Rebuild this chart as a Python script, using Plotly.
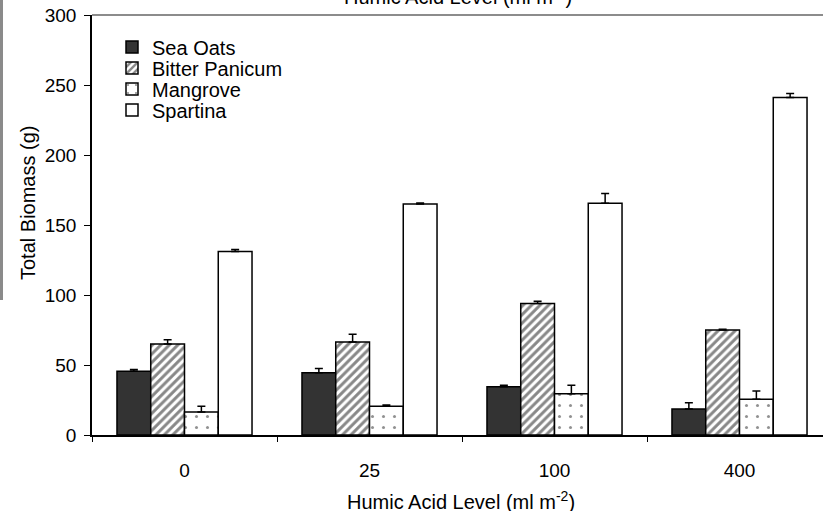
import plotly.graph_objects as go

levels = ["0", "25", "100", "400"]
series_names = ["Sea Oats", "Bitter Panicum", "Mangrove", "Spartina"]
sea_oats = [45.5, 44.5, 34.5, 18.5]
sea_oats_err = [1.2, 3.0, 1.0, 4.5]
bitter_panicum = [65.0, 66.5, 94.0, 75.0]
bitter_panicum_err = [3.0, 5.5, 1.5, 0.5]
mangrove = [16.5, 20.5, 29.5, 25.5]
mangrove_err = [4.0, 1.0, 6.0, 6.0]
spartina = [131.0, 165.0, 165.5, 241.0]
spartina_err = [1.5, 0.8, 7.0, 3.0]
y_ticks = [0, 50, 100, 150, 200, 250, 300]
x_title = "Humic Acid Level (ml m<sup>-2</sup>)"
y_title = "Total Biomass (g)"

FONT = "Liberation Sans, Arial, sans-serif"
values = [sea_oats, bitter_panicum, mangrove, spartina]
errs = [sea_oats_err, bitter_panicum_err, mangrove_err, spartina_err]
fills = [
    dict(color="#333333"),
    dict(color="white", pattern=dict(shape="/", fgcolor="#111111", bgcolor="white", size=6, solidity=0.5)),
    dict(color="white", pattern=dict(shape=".", fgcolor="#222222", bgcolor="white", size=11, solidity=0.06)),
    dict(color="white"),
]

L, T, B = 92, 15, 76
W, H = 823, 511
pw = W - L
ph = H - T - B
cat_px = 185.0
x_max = -0.5 + pw / cat_px

legend_centers_px = [47, 68, 89, 110]
legend_ids = ["legend", "legend2", "legend3", "legend4"]

fig = go.Figure()
for name, v, e, f, lid in zip(series_names, values, errs, fills, legend_ids):
    fig.add_trace(go.Bar(
        name=name, x=levels, y=v, legend=lid,
        marker=dict(line=dict(color="black", width=1.5), **f),
        error_y=dict(type="data", array=e, arrayminus=[0] * len(e), symmetric=False,
                     color="black", thickness=1.5, width=4),
    ))

legend_x = (112 - L) / pw
legends = {}
for lid, cy in zip(legend_ids, legend_centers_px):
    legends[lid] = dict(x=legend_x, y=1 - (cy - T) / ph, xanchor="left", yanchor="middle",
                        bgcolor="rgba(0,0,0,0)", borderwidth=0,
                        font=dict(family=FONT, size=20, color="black"),
                        itemwidth=30)

fig.update_layout(
    width=W, height=H,
    margin=dict(l=L, r=0, t=T, b=B, pad=0, autoexpand=False),
    paper_bgcolor="white", plot_bgcolor="white",
    barmode="group", bargap=0.27, bargroupgap=0,
    font=dict(family=FONT, size=19, color="black"),
    showlegend=True,
    xaxis=dict(
        type="category", range=[-0.5, x_max], automargin=False,
        showline=True, linecolor="black", linewidth=1.5,
        ticks="outside", tickson="boundaries", ticklen=5, tickcolor="black",
        ticklabelstandoff=17,
        tickfont=dict(family=FONT, size=19, color="black"),
        showgrid=False, zeroline=False,
    ),
    yaxis=dict(
        range=[0, 300], tickvals=y_ticks, automargin=False,
        showline=True, linecolor="black", linewidth=1.5,
        ticks="outside", ticklen=6, tickcolor="black",
        ticklabelstandoff=4,
        tickfont=dict(family=FONT, size=19, color="black"),
        showgrid=False, zeroline=False,
    ),
    shapes=[
        dict(type="line", xref="paper", yref="paper", x0=0, x1=1, y0=1, y1=1,
             line=dict(color="#666666", width=1.5)),
        dict(type="rect", xref="paper", yref="paper", x0=-L / pw, x1=(3 - L) / pw,
             y0=1 - (300 - T) / ph, y1=1 + T / ph, fillcolor="#8a8a8a", line=dict(width=0), layer="above"),
    ],
    annotations=[
        dict(text=x_title, xref="paper", yref="paper",
             x=0.5, y=1, xanchor="center", yanchor="bottom", yshift=5, showarrow=False,
             font=dict(family=FONT, size=20, color="black")),
        dict(text=x_title, xref="paper", yref="paper",
             x=(461 - L) / pw, y=-(501 - T - ph) / ph, xanchor="center", yanchor="middle", showarrow=False,
             font=dict(family=FONT, size=20, color="black")),
        dict(text=y_title, xref="paper", yref="paper", textangle=-90,
             x=-(L - 28) / pw, y=1 - (203 - T) / ph, xanchor="center", yanchor="middle", showarrow=False,
             font=dict(family=FONT, size=20, color="black")),
    ],
)
for lid, cfg in legends.items():
    fig.update_layout({lid: cfg})

fig.write_html("out.html", config={"displayModeBar": False},
               post_script="document.body.style.margin='0';document.body.style.overflow='hidden';")
